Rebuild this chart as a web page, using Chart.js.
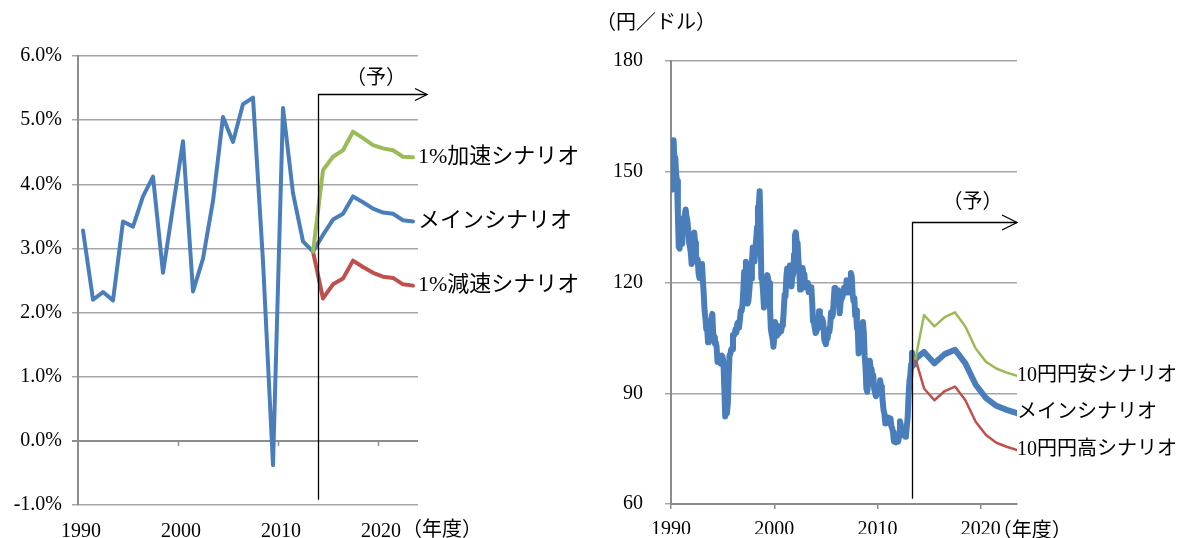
<!DOCTYPE html>
<html lang="ja">
<head>
<meta charset="utf-8">
<title>成長率と円ドルレートの見通し</title>
<script src="https://cdn.jsdelivr.net/npm/chart.js@4/dist/chart.umd.min.js"></script>
<style>
  html, body { margin: 0; padding: 0; background: #fff; }
  body { width: 1184px; height: 538px; position: relative; overflow: hidden; }
  canvas { position: absolute; top: 0; }
  #growth { left: 0; }
  #yen { left: 590px; }
</style>
</head>
<body>
<canvas id="growth" width="590" height="538"></canvas>
<canvas id="yen" width="594" height="538"></canvas>
<script>
// ---- 成長率（％、年度） ----
const growthYears = [1990, 1991, 1992, 1993, 1994, 1995, 1996, 1997, 1998, 1999,
                     2000, 2001, 2002, 2003, 2004, 2005, 2006, 2007, 2008, 2009,
                     2010, 2011, 2012, 2013];
const growthActual = [3.28, 2.20, 2.32, 2.19, 3.42, 3.34, 3.81, 4.12, 2.62, 3.65,
                      4.67, 2.33, 2.84, 3.74, 5.05, 4.66, 5.25, 5.35, 2.80, -0.38,
                      5.19, 3.86, 3.11, 2.95];
const scenarioYears = [2014, 2015, 2016, 2017, 2018, 2019, 2020, 2021, 2022, 2023];
const growthMain = [3.21, 3.45, 3.54, 3.81, 3.72, 3.62, 3.56, 3.54, 3.44, 3.42];
const growthUp   = [4.22, 4.43, 4.53, 4.82, 4.72, 4.61, 4.56, 4.53, 4.43, 4.42];
const growthDown = [2.22, 2.44, 2.53, 2.81, 2.71, 2.62, 2.56, 2.54, 2.44, 2.42];
const growthTickYears = [1990, 2000, 2010, 2020];

// ---- 円ドルレート（円／ドル）：1990年1月からの月次実績 ----
const yenStartYear = 1990;
const yenMonthly = [
  145.1, 145.5, 153.2, 158.5, 153.5, 153.8, 149.2, 147.5, 138.4, 129.6, 129.2, 133.9, // 1990
  133.7, 130.5, 137.4, 137.1, 138.2, 139.8, 137.8, 136.8, 134.3, 130.8, 129.6, 128.1, // 1991
  125.0, 127.7, 132.9, 133.5, 130.8, 126.9, 125.6, 126.3, 122.6, 121.2, 123.9, 123.9, // 1992
  125.0, 120.8, 117.0, 112.4, 110.3, 107.4, 107.7, 103.8, 105.4, 107.0, 107.9, 109.9, // 1993
  111.5, 106.3, 105.1, 103.5, 103.8, 102.5,  98.5, 100.0,  98.8,  98.4,  98.0, 100.2, // 1994
   99.8,  98.2,  90.8,  83.7,  85.1,  84.6,  87.2,  94.5, 100.3, 100.7, 101.9, 101.9, // 1995
  105.8, 105.7, 105.9, 107.4, 106.5, 108.8, 109.2, 107.8, 109.8, 112.3, 112.3, 113.8, // 1996
  117.9, 122.9, 122.7, 125.6, 119.2, 114.3, 115.1, 117.9, 120.9, 121.1, 125.4, 129.5, // 1997
  129.5, 125.7, 129.1, 131.8, 135.0, 140.4, 140.7, 144.7, 134.5, 121.1, 120.7, 117.4, // 1998
  113.2, 116.6, 119.5, 119.7, 122.0, 120.7, 119.8, 113.3, 107.4, 106.0, 104.8, 102.6, // 1999
  105.2, 109.3, 106.3, 105.6, 108.3, 106.1, 107.9, 108.1, 106.8, 108.4, 109.0, 112.2, // 2000
  116.7, 116.2, 121.5, 123.8, 121.8, 122.2, 124.6, 121.5, 118.9, 121.5, 122.4, 127.6, // 2001
  132.7, 133.6, 131.1, 130.8, 126.4, 123.3, 118.1, 119.0, 120.5, 123.9, 121.6, 122.2, // 2002
  118.7, 119.3, 118.6, 119.9, 117.4, 118.3, 118.7, 118.7, 114.8, 109.5, 109.2, 107.8, // 2003
  106.3, 106.7, 108.5, 107.6, 112.2, 109.4, 109.3, 110.4, 110.0, 108.8, 104.7, 103.8, // 2004
  103.3, 104.9, 104.9, 107.2, 106.6, 108.6, 111.9, 110.6, 111.2, 114.8, 118.5, 118.5, // 2005
  115.5, 117.9, 117.3, 117.0, 111.7, 114.6, 115.7, 115.9, 117.0, 118.6, 117.4, 117.3, // 2006
  120.6, 120.5, 117.3, 118.8, 120.8, 122.6, 121.6, 116.8, 115.0, 115.8, 111.1, 112.4, // 2007
  107.7, 107.1, 100.8, 102.7, 104.4, 106.9, 106.9, 109.3, 106.6, 100.1,  96.9,  91.3, // 2008
   90.4,  92.5,  97.9,  98.8,  96.6,  96.6,  94.5,  94.9,  91.3,  90.3,  89.2,  89.6, // 2009
   91.1,  90.1,  90.7,  93.5,  91.8,  90.9,  87.6,  85.4,  84.4,  81.8,  82.5,  83.4, // 2010
   82.6,  82.6,  81.8,  83.2,  81.1,  80.5,  79.4,  77.0,  76.8,  76.7,  77.5,  77.8, // 2011
   76.9,  78.5,  82.4,  81.4,  79.7,  79.3,  78.9,  78.7,  78.2,  78.9,  80.9,  83.6, // 2012
   89.2,  93.2,  94.8,  97.8, 101.0,  97.4,  99.7,  97.8,  99.3                       // 2013
];
const yenScenarioYears = [2014, 2015, 2016, 2017, 2018, 2019, 2020, 2021, 2022, 2023];
const yenMain   = [101.2, 98.1, 100.6, 101.8, 98.1, 92.3, 88.7, 86.6, 85.5, 84.6];
const yenWeak   = [111.2, 108.1, 110.6, 111.9, 108.1, 102.1, 98.5, 96.7, 95.6, 94.7];
const yenStrong = [91.3, 88.1, 90.6, 91.8, 88.1, 82.3, 78.7, 76.6, 75.5, 74.6];
const yenTickYears = [1990, 2000, 2010, 2020];

// ---- styling ----
const BLUE = '#4a7ebb', GREEN = '#9bbb59', RED = '#c0504d';
const GRID = '#a6a6a6', AXIS = '#8c8c8c';
const NUM_FONT = "'Liberation Serif', 'Noto Sans CJK JP', serif";
const JP_FONT = "'Liberation Serif', 'Noto Sans CJK JP', sans-serif";

Chart.defaults.font.family = NUM_FONT;
Chart.defaults.color = '#000';

// 系列の右端に名称を書く
const endLabels = {
  id: 'endLabels',
  afterDatasetsDraw(chart, args, opts) {
    const { ctx, chartArea, scales: { y } } = chart;
    ctx.save();
    ctx.font = opts.size + 'px ' + JP_FONT;
    ctx.fillStyle = '#000';
    ctx.textAlign = 'left';
    ctx.textBaseline = 'middle';
    opts.datasets.forEach(i => {
      const ds = chart.data.datasets[i];
      const last = ds.data[ds.data.length - 1];
      ctx.fillText(ds.label, chartArea.right + opts.gap, y.getPixelForValue(last.y));
    });
    ctx.restore();
  }
};

// 予測期間を示す折れ線矢印と「（予）」
const forecastMarker = {
  id: 'forecastMarker',
  afterDatasetsDraw(chart, args, opts) {
    const { ctx, chartArea, scales: { x, y } } = chart;
    const px = Math.round(x.getPixelForValue(opts.at)) + 0.5;
    const top = Math.round(y.getPixelForValue(opts.top)) + 0.5;
    const bottom = y.getPixelForValue(opts.bottom);
    const tip = chartArea.right + opts.overshoot;
    ctx.save();
    ctx.strokeStyle = '#000';
    ctx.lineWidth = 1.3;
    ctx.beginPath();
    ctx.moveTo(px, bottom);
    ctx.lineTo(px, top);
    ctx.lineTo(tip, top);
    ctx.stroke();
    ctx.beginPath();
    ctx.moveTo(tip - opts.head, top - opts.head / 2);
    ctx.lineTo(tip, top);
    ctx.lineTo(tip - opts.head, top + opts.head / 2);
    ctx.stroke();
    ctx.font = '20px ' + JP_FONT;
    ctx.fillStyle = '#000';
    ctx.textAlign = 'center';
    ctx.textBaseline = 'middle';
    ctx.fillText('（予）', x.getPixelForValue(opts.labelAt), top - opts.labelGap);
    ctx.restore();
  }
};

// 軸の単位表記・補助目盛
const axisNotes = {
  id: 'axisNotes',
  beforeDatasetsDraw(chart, args, opts) {
    const { ctx, scales: { x, y } } = chart;
    if (opts.zeroTicks) {
      const y0 = y.getPixelForValue(0);
      ctx.save();
      ctx.strokeStyle = AXIS;
      ctx.lineWidth = 1.5;
      opts.zeroTicks.forEach(v => {
        const px = Math.round(x.getPixelForValue(v)) + 0.5;
        ctx.beginPath();
        ctx.moveTo(px, y0);
        ctx.lineTo(px, y0 + 5);
        ctx.stroke();
      });
      ctx.restore();
    }
  },
  afterDraw(chart, args, opts) {
    const { ctx, chartArea, scales: { x } } = chart;
    ctx.save();
    ctx.font = '20px ' + JP_FONT;
    ctx.fillStyle = '#000';
    ctx.textBaseline = 'middle';
    ctx.textAlign = 'left';
    ctx.fillText('（年度）', x.getPixelForValue(opts.yearAt) + opts.yearDx, opts.yearY);
    if (opts.unit) {
      ctx.textAlign = 'center';
      ctx.fillText(opts.unit, chartArea.left + opts.unitDx, opts.unitY);
    }
    ctx.restore();
  }
};

const lineStyle = {
  pointRadius: 0,
  pointHoverRadius: 0,
  tension: 0,
  fill: false,
  borderJoinStyle: 'round',
  borderCapStyle: 'round'
};

// ---- 成長率 ----
const growthHist = growthYears.map((yr, i) => ({ x: yr + 0.5, y: growthActual[i] }));
const growthJoin = growthHist[growthHist.length - 1];
const growthScenario = arr => [growthJoin].concat(scenarioYears.map((yr, i) => ({ x: yr + 0.5, y: arr[i] })));

new Chart(document.getElementById('growth'), {
  type: 'line',
  data: {
    datasets: [
      Object.assign({ label: '1%加速シナリオ', data: growthScenario(growthUp), borderColor: GREEN, borderWidth: 4, order: 0 }, lineStyle),
      Object.assign({ label: 'メインシナリオ', data: growthScenario(growthMain), borderColor: BLUE, borderWidth: 4, order: 2 }, lineStyle),
      Object.assign({ label: '1%減速シナリオ', data: growthScenario(growthDown), borderColor: RED, borderWidth: 4, order: 1 }, lineStyle),
      Object.assign({ label: '実績', data: growthHist, borderColor: BLUE, borderWidth: 4, order: 3 }, lineStyle)
    ]
  },
  options: {
    responsive: false,
    animation: false,
    devicePixelRatio: 1,
    events: [],
    layout: { padding: { top: 56, right: 172, bottom: 0, left: 0 } },
    plugins: {
      legend: { display: false },
      tooltip: { enabled: false },
      endLabels: { datasets: [0, 1, 2], size: 22, gap: 0 },
      forecastMarker: { at: 2014, top: 5.4, bottom: -0.92, overshoot: 9, head: 12, labelAt: 2019.8, labelGap: 16 },
      axisNotes: { zeroTicks: [2000, 2010, 2020], yearAt: 2020, yearDx: 24, yearY: 531 }
    },
    scales: {
      x: {
        type: 'linear',
        min: 1990,
        max: 2024,
        afterFit: s => { s.height = 33; },
        afterBuildTicks: s => { s.ticks = growthTickYears.map(v => ({ value: v })); },
        grid: { display: false, drawTicks: false },
        border: { display: false },
        ticks: { padding: 15, labelOffset: 3, maxRotation: 0, autoSkip: false, color: '#000',
                 font: { size: 20 }, callback: v => String(v) }
      },
      y: {
        min: -1,
        max: 6,
        afterFit: s => { s.width = 78; },
        grid: {
          color: c => (c.tick && c.tick.value === 0 ? AXIS : GRID),
          lineWidth: c => (c.tick && c.tick.value === 0 ? 2 : 1.5),
          tickLength: 6
        },
        border: { color: AXIS, width: 2 },
        ticks: { stepSize: 1, padding: 10, color: '#000', font: { size: 20 },
                 callback: v => v.toFixed(1) + '%' }
      }
    }
  },
  plugins: [axisNotes, endLabels, forecastMarker]
});

// ---- 円ドルレート ----
const yenHist = yenMonthly.map((v, i) => ({ x: yenStartYear + i / 12, y: v }));
const yenJoin = yenHist[yenHist.length - 1];
const yenScenario = arr => [yenJoin].concat(yenScenarioYears.map((yr, i) => ({ x: yr + 0.5, y: arr[i] })));

new Chart(document.getElementById('yen'), {
  type: 'line',
  data: {
    datasets: [
      Object.assign({ label: '10円円安シナリオ', data: yenScenario(yenWeak), borderColor: GREEN, borderWidth: 2.5, order: 0 }, lineStyle),
      Object.assign({ label: 'メインシナリオ', data: yenScenario(yenMain), borderColor: BLUE, borderWidth: 6, order: 2 }, lineStyle),
      Object.assign({ label: '10円円高シナリオ', data: yenScenario(yenStrong), borderColor: RED, borderWidth: 2.5, order: 1 }, lineStyle),
      Object.assign({ label: '実績', data: yenHist, borderColor: BLUE, borderWidth: 6, order: 3 }, lineStyle)
    ]
  },
  options: {
    responsive: false,
    animation: false,
    devicePixelRatio: 1,
    events: [],
    layout: { padding: { top: 61, right: 167, bottom: 0, left: 0 } },
    plugins: {
      legend: { display: false },
      tooltip: { enabled: false },
      endLabels: { datasets: [0, 1, 2], size: 20, gap: 0 },
      forecastMarker: { at: 2013.33, top: 136.3, bottom: 61.4, overshoot: 0, head: 15, labelAt: 2019.2, labelGap: 20 },
      axisNotes: { yearAt: 2020, yearDx: 11, yearY: 532, unit: '（円／ドル）', unitDx: -15, unitY: 24 }
    },
    scales: {
      x: {
        type: 'linear',
        min: 1990,
        max: 2023.5,
        afterFit: s => { s.height = 30; },
        afterBuildTicks: s => { s.ticks = yenTickYears.map(v => ({ value: v })); },
        grid: { drawOnChartArea: false, drawTicks: true, tickLength: 5, color: AXIS, lineWidth: 1.5 },
        border: { color: AXIS, width: 2 },
        ticks: { padding: 9, maxRotation: 0, autoSkip: false, color: '#000',
                 font: { size: 20 }, callback: v => String(v) }
      },
      y: {
        min: 60,
        max: 180,
        afterFit: s => { s.width = 81; },
        grid: { color: GRID, lineWidth: 1.5, tickLength: 6 },
        border: { color: AXIS, width: 2 },
        ticks: { stepSize: 30, padding: 22, color: '#000', font: { size: 20 } }
      }
    }
  },
  plugins: [axisNotes, endLabels, forecastMarker]
});
</script>
</body>
</html>
